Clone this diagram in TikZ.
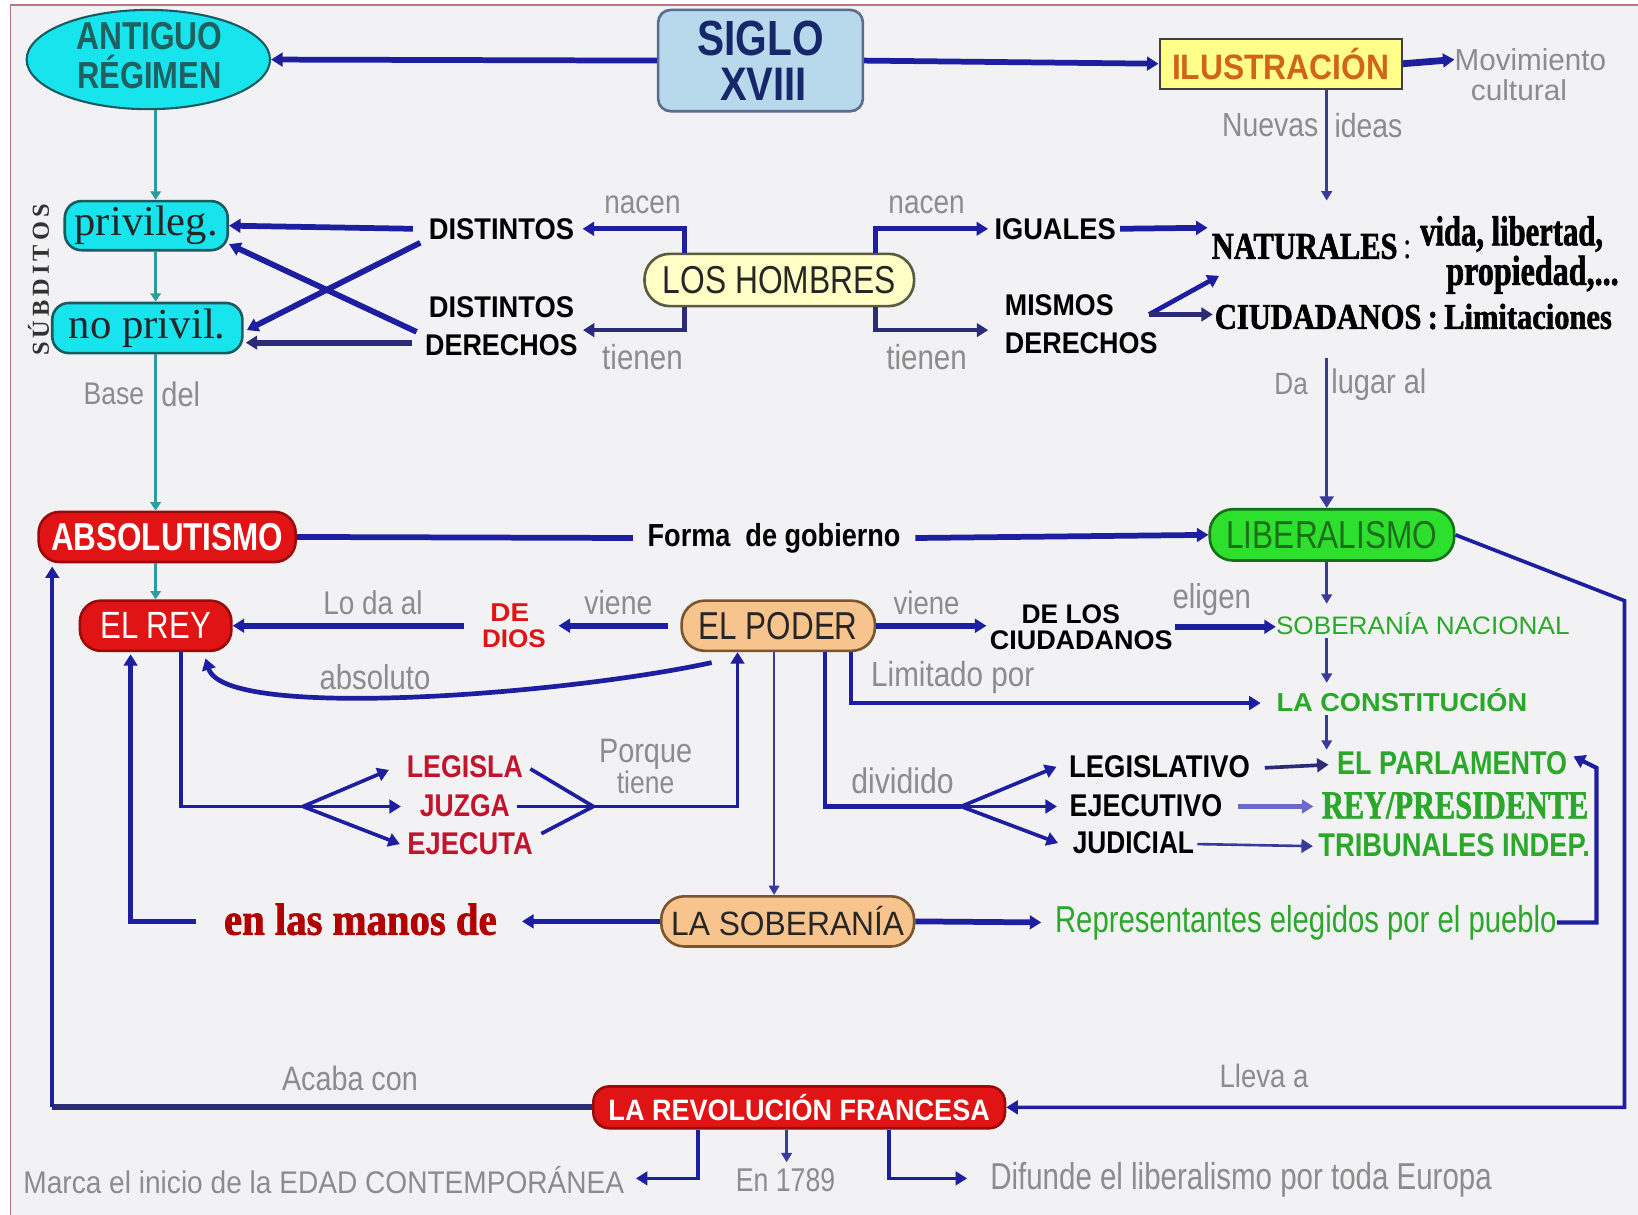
\documentclass[tikz,border=0pt]{standalone}
\usepackage{fontspec}
\usepackage{graphicx}
\setmainfont{Liberation Sans}[FakeStretch=0.85]
\newfontfamily\sercond{Liberation Serif}[FakeStretch=0.8,BoldFeatures={FakeBold=1.5}]
\newfontfamily\serreg{Liberation Serif}
\usetikzlibrary{arrows.meta,shapes.geometric,calc}
\definecolor{bg}{HTML}{F2F2F4}
\definecolor{framec}{HTML}{C07080}
\definecolor{lineblue}{HTML}{1E1EA0}
\definecolor{navy}{HTML}{2B2B78}
\definecolor{thinblue}{HTML}{3A3A9A}
\definecolor{lightblue}{HTML}{6A6ACC}
\definecolor{tealc}{HTML}{2C9C9C}
\definecolor{cyanf}{HTML}{18E4EE}
\definecolor{tealdark}{HTML}{1A5A60}
\definecolor{antxt}{HTML}{1F6060}
\definecolor{redf}{HTML}{E01414}
\definecolor{redb}{HTML}{9A0A0A}
\definecolor{greenf}{HTML}{2EE02E}
\definecolor{greenb}{HTML}{157015}
\definecolor{libtxt}{HTML}{1E6E1E}
\definecolor{orangef}{HTML}{F8C48E}
\definecolor{orangeb}{HTML}{7A5530}
\definecolor{yellowf}{HTML}{FFFFC6}
\definecolor{yellowb}{HTML}{5A5A40}
\definecolor{siglof}{HTML}{B8D8EC}
\definecolor{siglob}{HTML}{5C6C90}
\definecolor{siglot}{HTML}{16276A}
\definecolor{ilusf}{HTML}{FFFF8A}
\definecolor{ilust}{HTML}{D0651A}
\definecolor{grayt}{HTML}{8C8C8C}
\definecolor{gtxt}{HTML}{2AA82A}
\definecolor{crim}{HTML}{C3142D}
\definecolor{darkred}{HTML}{B00000}
\newcommand{\W}[2]{\resizebox{#1pt}{!}{#2}}
\newcommand{\WH}[3]{\resizebox{#1pt}{#2pt}{#3}}
\begin{document}
\begin{tikzpicture}[x=1pt,y=-1pt,
  txt/.style={inner sep=0pt},
  lbl/.style={inner sep=0pt,text=grayt},
  grn/.style={inner sep=0pt,text=gtxt},
  thickl/.style={draw=lineblue,line width=5.5pt},
  midl/.style={draw=lineblue,line width=3.5pt},
  thinl/.style={draw=thinblue,line width=2.5pt},
  teall/.style={draw=tealc,line width=3.5pt,-{Triangle[length=8pt,width=10pt]}},
  arr/.style={-{Triangle[length=11pt,width=13pt]}},
  sarr/.style={-{Triangle[length=9pt,width=10pt]}},
  redbox/.style={draw=redb,fill=redf,line width=2.5pt,rounded corners=20pt,inner sep=0pt,text=white},
  orbox/.style={draw=orangeb,fill=orangef,line width=2.5pt,rounded corners=22pt,inner sep=0pt,text=black!85},
  cybox/.style={draw=tealdark,fill=cyanf,line width=2.5pt,rounded corners=16pt,inner sep=0pt,text=black!85}
]
\useasboundingbox (0,0) rectangle (1568,1163);
\fill[white] (0,0) rectangle (1568,1163);
\fill[bg] (10,5) rectangle (1568,1163);
\draw[framec,line width=1.5pt] (10,1163) -- (10,5) -- (1568,5);

% ---------- nodes ----------
\node[ellipse,draw=tealdark,fill=cyanf,line width=2pt,minimum width=233pt,minimum height=95pt,inner sep=0pt] (antiguo) at (142,57) {};
\node[txt,text=antxt] (antiguoA) at (143,35) {\WH{140}{26}{\bfseries ANTIGUO}};
\node[txt,text=antxt] (antiguoB) at (143,69) {\WH{138}{32}{\bfseries RÉGIMEN}};

\node[draw=siglob,fill=siglof,line width=2.5pt,rounded corners=12pt,minimum width=196pt,minimum height=97pt,inner sep=0pt] (siglo) at (728,58) {};
\node[txt,text=siglot] (sigloA) at (728,37) {\WH{121}{33}{\bfseries SIGLO}};
\node[txt,text=siglot] (sigloB) at (731,81) {\WH{83}{31}{\bfseries XVIII}};

\node[draw=black!75,fill=ilusf,line width=2pt,minimum width=232pt,minimum height=48pt,inner sep=0pt,text=ilust] (ilus) at (1226,61) {\WH{208}{30}{\bfseries ILUSTRACIÓN}};
\node[lbl] (movA) at (1465,57) {\WH{145}{21}{Movimiento}};
\node[lbl] (movB) at (1454,86) {\WH{92}{20}{cultural}};
\node[lbl] (nuevas) at (1216,120) {\W{92}{Nuevas}};
\node[lbl] (ideas) at (1310,120) {\W{65}{ideas}};

\node[cybox,minimum width=156pt,minimum height=47pt] (privileg) at (140,216) {\W{137}{\serreg privileg.}};
\node[cybox,minimum width=182pt,minimum height=48pt] (noprivil) at (141,314) {\W{150}{\serreg no privil.}};
\node[txt,rotate=90,text=black!80] (subditos) at (37,268) {\WH{145}{20}{\serreg\bfseries S\,Ú\,B\,D\,I\,T\,O\,S}};
\node[lbl] (base) at (109,377) {\W{58}{Base}};
\node[lbl] (del) at (173,377) {\W{37}{del}};

\node[txt] (dist1) at (480,219) {\WH{139}{20}{\bfseries DISTINTOS}};
\node[txt] (dist2) at (480,294) {\WH{139}{20}{\bfseries DISTINTOS}};
\node[txt] (der1) at (480,330) {\WH{146}{20}{\bfseries DERECHOS}};
\node[lbl] (nacenL) at (615,196) {\W{73}{nacen}};
\node[lbl] (tienenL) at (615,342) {\W{77}{tienen}};
\node[draw=yellowb,fill=yellowf,line width=2.5pt,rounded corners=24pt,minimum width=258pt,minimum height=50pt,inner sep=0pt,text=black!85] (hombres) at (746,268) {\WH{223}{26}{LOS HOMBRES}};
\node[lbl] (nacenR) at (887,196) {\W{73}{nacen}};
\node[lbl] (tienenR) at (887,342) {\W{77}{tienen}};
\node[txt] (iguales) at (1010,219) {\WH{116}{20}{\bfseries IGUALES}};
\node[txt] (mismos) at (1014,292) {\WH{104}{20}{\bfseries MISMOS}};
\node[txt] (der2) at (1035,329) {\WH{146}{20}{\bfseries DERECHOS}};
\node[txt] (nat) at (1256,236) {\WH{192}{24}{\sercond{\bfseries NATURALES}\,:}};
\node[txt] (vida) at (1447,224) {\WH{175}{28}{\sercond\bfseries vida, libertad,}};
\node[txt] (prop) at (1467,263) {\WH{165}{28}{\sercond\bfseries propiedad,...}};
\node[txt] (ciudn) at (1353,303) {\WH{380}{24}{\sercond\bfseries CIUDADANOS\,:\,Limitaciones}};
\node[lbl] (da) at (1236,368) {\W{32}{Da}};
\node[lbl] (lugar) at (1320,368) {\W{91}{lugar al}};

\node[redbox,minimum width=246pt,minimum height=48pt] (abs) at (160,514) {\WH{222}{26}{\bfseries ABSOLUTISMO}};
\node[txt] (forma) at (741,515) {\W{242}{\bfseries Forma\ \ de gobierno}};
\node[draw=greenb,fill=greenf,line width=2.5pt,rounded corners=22pt,minimum width=234pt,minimum height=49pt,inner sep=0pt,text=libtxt] (lib) at (1275,512) {\WH{202}{26}{LIBERALISMO}};

\node[redbox,minimum width=145pt,minimum height=48pt] (rey) at (149,599) {\WH{106}{25}{EL REY}};
\node[lbl] (loda) at (357,577) {\W{95}{Lo da al}};
\node[txt,text=redf] (de) at (488,586) {\WH{37}{17}{\bfseries DE}};
\node[txt,text=redf] (dios) at (492,611) {\WH{61}{17}{\bfseries DIOS}};
\node[lbl] (vieneL) at (592,577) {\W{65}{viene}};
\node[orbox,minimum width=185pt,minimum height=48pt] (poder) at (745,599) {\WH{152}{26}{EL PODER}};
\node[lbl] (vieneR) at (887,577) {\W{63}{viene}};
\node[txt] (delos) at (1025,588) {\WH{94}{18}{\bfseries DE LOS}};
\node[txt] (ciud) at (1035,613) {\WH{175}{18}{\bfseries CIUDADANOS}};
\node[lbl] (eligen) at (1160,574) {\W{75}{eligen}};
\node[grn] (sobnac) at (1362,597) {\WH{281}{21}{SOBERANÍA NACIONAL}};
\node[lbl] (absoluto) at (359,648) {\W{106}{absoluto}};
\node[lbl] (limitado) at (912,649) {\W{156}{Limitado por}};
\node[grn] (constit) at (1342,670) {\WH{240}{22}{\bfseries LA CONSTITUCIÓN}};

\node[txt,text=crim] (legis) at (445,734) {\WH{111}{21}{\bfseries LEGISLA}};
\node[txt,text=crim] (juzga) at (445,771) {\WH{86}{21}{\bfseries JUZGA}};
\node[txt,text=crim] (ejec) at (450,808) {\WH{120}{21}{\bfseries EJECUTA}};
\node[lbl] (porque) at (618,722) {\W{89}{Porque}};
\node[lbl] (tiene) at (618,749) {\W{55}{tiene}};
\node[lbl] (dividido) at (864,747) {\W{98}{dividido}};
\node[txt] (legv) at (1110,734) {\WH{173}{21}{\bfseries LEGISLATIVO}};
\node[txt] (ejev) at (1097,771) {\WH{146}{21}{\bfseries EJECUTIVO}};
\node[txt] (judv) at (1085,807) {\WH{116}{21}{\bfseries JUDICIAL}};
\node[grn] (parl) at (1390,731) {\WH{220}{22}{\bfseries EL PARLAMENTO}};
\node[grn] (reyp) at (1393,771) {\WH{255}{25}{\sercond\bfseries REY/PRESIDENTE}};
\node[grn] (trib) at (1392,809) {\WH{260}{22}{\bfseries TRIBUNALES INDEP.}};

\node[txt,text=darkred] (manos) at (345,880) {\WH{261}{30}{\sercond\bfseries en las manos de}};
\node[orbox,minimum width=242pt,minimum height=48pt] (sob) at (754,882) {\WH{223}{28}{LA SOBERANÍA}};
\node[grn] (repr) at (1250,883) {\WH{480}{26}{Representantes elegidos por el pueblo}};

\node[lbl] (acaba) at (335,1032) {\W{130}{Acaba con}};
\node[lbl] (lleva) at (1210,1030) {\W{85}{Lleva a}};
\node[redbox,rounded corners=15pt,minimum width=394pt,minimum height=40pt] (rev) at (765,1060) {\WH{365}{25}{\bfseries LA REVOLUCIÓN FRANCESA}};
\node[lbl] (marca) at (310,1130) {\WH{575}{26}{Marca el inicio de la EDAD CONTEMPORÁNEA}};
\node[lbl] (en) at (752,1130) {\WH{95}{22}{En 1789}};
\node[lbl] (difunde) at (1188,1129) {\WH{480}{26}{Difunde el liberalismo por toda Europa}};

% ---------- coordinates ----------
\coordinate (tx) at (149,0);
\coordinate (hL) at (655,0);
\coordinate (hR) at (838,0);
\coordinate (dt) at (558,316);
\coordinate (mt) at (946,316);
\coordinate (natA) at (1156,218);
\coordinate (mO) at (1100,301);
\coordinate (natB) at (1167,264);
\coordinate (ciuA) at (1161,301);
\coordinate (vx) at (1270,0);
\coordinate (nvB) at (1270,192);
\coordinate (daT) at (1270,343);
\coordinate (snT) at (1270,578);
\coordinate (rc) at (1555,575);
\coordinate (p1) at (815,0);
\coordinate (p2) at (790,0);
\coordinate (p3) at (741,0);
\coordinate (fanR) at (920,772);
\coordinate (r1) at (173,0);
\coordinate (r2) at (125,0);
\coordinate (fanL) at (290,772);
\coordinate (fmid) at (568,772);
\coordinate (pu) at (706,0);
\coordinate (lc) at (50,0);
\coordinate (b1) at (668,0);
\coordinate (b2) at (753,0);
\coordinate (b3) at (851,0);

% ---------- connectors ----------
\draw[thickl,arr] (siglo.west) -- (antiguo.east);
\draw[thickl,arr] (siglo.east) -- (ilus.west);
\draw[thickl,line width=6.5pt,arr] (ilus.east) -- (movA.west);
\draw[thinl,sarr] (vx |- ilus.south) -- (nvB);

\draw[teall] (tx |- antiguo.south) -- (tx |- privileg.north);
\draw[teall] (tx |- privileg.south) -- (tx |- noprivil.north);
\draw[teall] (tx |- noprivil.south) -- (tx |- abs.north);
\draw[teall] (tx |- abs.south) -- (tx |- rey.north);

\draw[thickl,arr] ($(dist1.west)+(-15,0)$) -- (privileg.east);
\draw[thickl,arr] ($(dist1.south west)+(-8,3)$) -- ($(noprivil.east)+(3,2)$);
\draw[thickl,arr] ($(der1.north west)+(-8,-2)$) -- ($(privileg.south east)+(0,-7)$);
\draw[draw=navy,line width=5.5pt,arr] ($(der1.west)+(-12,-2)$) -- ($(noprivil.east |- der1.west)+(2,-2)$);

\draw[thickl,line width=4.5pt,arr] (hL |- hombres.north) |- ($(dist1.east)+(8,0)$);
\draw[draw=navy,line width=4.5pt,arr] (hL |- hombres.south) |- (dt);
\draw[thickl,line width=4.5pt,arr] (hR |- hombres.north) |- ($(iguales.west)+(-6,0)$);
\draw[draw=navy,line width=4.5pt,arr] (hR |- hombres.south) |- (mt);
\draw[thickl,arr] ($(iguales.east)+(4,0)$) -- (natA);
\draw[thickl,line width=4.5pt,arr] (mO) -- (natB);
\draw[draw=navy,line width=4.5pt,arr] (mO) -- (ciuA);

\draw[thinl,line width=3pt,arr] (daT) -- (daT |- lib.north);

\draw[thickl] (abs.east) -- ($(forma.west)+(-14,0)$);
\draw[thickl,arr] ($(forma.east)+(14,0)$) -- (lib.west);
\draw[midl,arr] (lib.east) -- (rc) -- (rc |- rev.east) -- (rev.east);

\draw[thinl,sarr] (snT |- lib.south) -- (snT);
\draw[thinl,sarr,shorten <=3pt] (vx |- sobnac.south) -- ($(vx |- constit.north)+(0,-5)$);
\draw[thinl,sarr,shorten <=3pt] (vx |- constit.south) -- ($(vx |- parl.north)+(0,-2)$);

\draw[thickl,arr] ($(poder.west)+(-12,0)$) -- ($(dios.east |- poder.west)+(12,0)$);
\draw[thickl,arr] ($(dios.west |- rey.east)+(-17,0)$) -- (rey.east);
\draw[thickl,arr] (poder.east) -- ($(ciud.west |- poder.east)+(-3,0)$);
\draw[thickl,arr] ($(ciud.east |- sobnac.west)+(2,3)$) -- ($(sobnac.west)+(0,3)$);
\draw[midl,line width=4pt,arr] (p1 |- poder.south) |- ($(constit.west)+(-15,3)$);
\draw[midl,line width=4pt] (p2 |- poder.south) |- (fanR);
\draw[midl,arr] (fanR) -- ($(legv.west)+(-12,0)$);
\draw[midl,arr] (fanR) -- ($(ejev.west)+(-12,1)$);
\draw[midl,arr] (fanR) -- ($(judv.west)+(-14,0)$);
\draw[draw=navy,line width=3.5pt,arr] ($(legv.east)+(14,1)$) -- ($(parl.west)+(-8,1)$);
\draw[draw=lightblue,line width=4.5pt,arr] ($(ejev.east)+(15,1)$) -- ($(reyp.west)+(-8,1)$);
\draw[thinl,arr] ($(judv.east)+(3,1)$) -- ($(trib.west)+(-5,1)$);
\draw[thinl,sarr] (p3 |- poder.south) -- (p3 |- sob.north);

\draw[thickl,line width=4.5pt,arr] ($(poder.south west)+(30,10)$) .. controls (540,665) and (215,690) .. ($(rey.south east)+(-26,6)$);

\draw[midl] (r1 |- rey.south) |- (fanL);
\draw[midl,arr] (fanL) -- ($(legis.west)+(-17,3)$);
\draw[midl,arr] (fanL) -- ($(juzga.west)+(-18,1)$);
\draw[midl,arr] (fanL) -- ($(ejec.west)+(-7,0)$);
\draw[midl] ($(legis.east)+(7,2)$) -- (fmid);
\draw[midl] ($(ejec.east)+(8,-10)$) -- (fmid);
\draw[midl,arr] ($(juzga.east)+(7,1)$) -- (fmid) -| (pu |- poder.south);

\draw[thickl,arr] (sob.west) -- ($(manos.east)+(24,2)$);
\draw[thickl,arr] ($(manos.west)+(-27,2)$) -| ($(r2 |- rey.south)+(0,2)$);
\draw[thickl,arr] (sob.east) -- ($(repr.west)+(-13,0)$);
\draw[midl,line width=4pt,arr] (repr.east) -| ($(parl.east)+(28,4)$) -- ($(parl.east)+(6,-7)$);

\draw[draw=navy,line width=5.5pt] (rev.west) -- (lc |- rev.west);
\draw[midl,line width=4pt,arr] (lc |- rev.west) -- ($(lc |- abs.south)+(0,3)$);
\draw[midl,arr] (b1 |- rev.south) |- ($(marca.east)+(11,-2)$);
\draw[thinl,sarr] (b2 |- rev.south) -- ($(b2 |- en.north)+(0,-6)$);
\draw[midl,arr] (b3 |- rev.south) |- ($(difunde.west)+(-22,-1)$);
\end{tikzpicture}
\end{document}
